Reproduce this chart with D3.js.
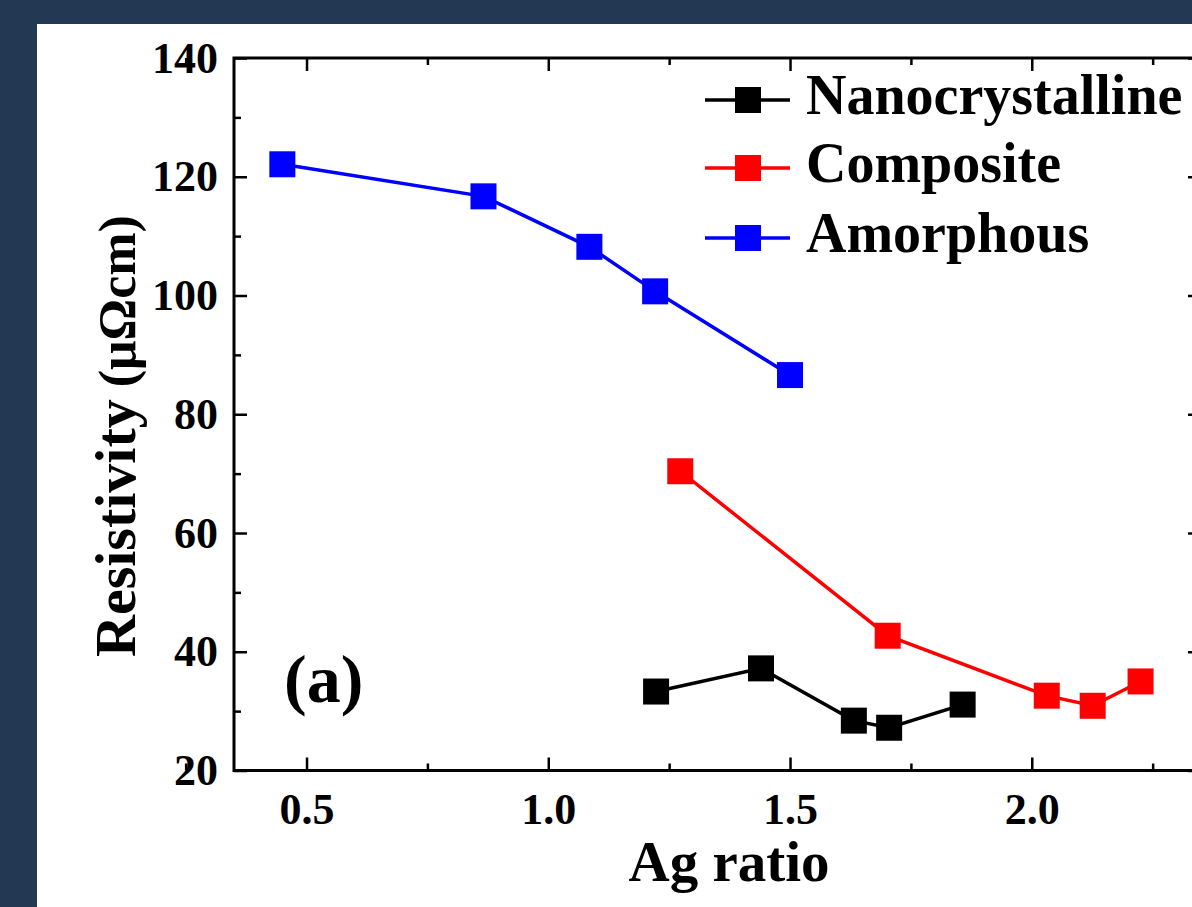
<!DOCTYPE html>
<html>
<head>
<meta charset="utf-8">
<script src="https://cdn.jsdelivr.net/npm/d3@7"></script>
<style>
  html, body { margin: 0; padding: 0; background: #233852; }
  svg { display: block; }
  text { font-family: "Liberation Serif", "Times New Roman", serif; font-weight: bold; fill: #000; }
</style>
</head>
<body>
<script>
// ---- data ----
const seriesNames = ["Nanocrystalline", "Composite", "Amorphous"];
const seriesColors = ["#000000", "#ff0000", "#0000ff"];
const nanoX = [1.223, 1.440, 1.632, 1.705, 1.857];
const nanoY = [33.3, 37.2, 28.4, 27.2, 31.1];
const compX = [1.273, 1.702, 2.031, 2.126, 2.225];
const compY = [70.4, 42.7, 32.6, 30.9, 35.0];
const amorX = [0.450, 0.866, 1.085, 1.221, 1.500];
const amorY = [122.1, 116.7, 108.2, 100.7, 86.6];
const xTicks = [0.5, 1.0, 1.5, 2.0];
const xMinorTicks = [0.25, 0.75, 1.25, 1.75, 2.25];
const yTicks = [20, 40, 60, 80, 100, 120, 140];
const yMinorTicks = [30, 50, 70, 90, 110, 130];
const xTitle = "Ag ratio";
const yTitle = "Resistivity";
const yUnit = "(μΩcm)";
const panelLabel = "(a)";

(function () {
const W = 1192, H = 907;
const svg = d3.select("body").append("svg").attr("width", W).attr("height", H);
svg.append("rect").attr("width", W).attr("height", H).attr("fill", "#233852");
svg.append("rect").attr("x", 37).attr("y", 24).attr("width", W - 37).attr("height", H - 24).attr("fill", "#ffffff");

const pl = 234, pr = 1201, pt = 58, pb = 770.5;
const x = d3.scaleLinear().domain([0.35, 2.35]).range([pl, pr]);
const y = d3.scaleLinear().domain([20, 140]).range([pb, pt]);

function styleAxis(g) {
  g.select(".domain").remove();
  g.selectAll(".tick line").attr("stroke", "#000").attr("stroke-width", 2.5);
  g.selectAll(".tick text").attr("font-size", 44).attr("fill", "#000")
    .style("font-family", '"Liberation Serif", "Times New Roman", serif').style("font-weight", "bold");
}
svg.append("g").attr("transform", `translate(0,${pb})`)
  .call(d3.axisBottom(x).tickValues(xTicks).tickSize(-13).tickPadding(22).tickFormat(d3.format(".1f")))
  .call(styleAxis);
svg.append("g").attr("transform", `translate(0,${pb})`)
  .call(d3.axisBottom(x).tickValues(xMinorTicks).tickSize(-7).tickFormat(""))
  .call(styleAxis);
svg.append("g").attr("transform", `translate(0,${pt})`)
  .call(d3.axisTop(x).tickValues(xTicks).tickSize(-13).tickFormat(""))
  .call(styleAxis);
svg.append("g").attr("transform", `translate(0,${pt})`)
  .call(d3.axisTop(x).tickValues(xMinorTicks).tickSize(-7).tickFormat(""))
  .call(styleAxis);
svg.append("g").attr("transform", `translate(${pl},0)`)
  .call(d3.axisLeft(y).tickValues(yTicks).tickSize(-13).tickPadding(16).tickFormat(d3.format("d")))
  .call(styleAxis);
svg.append("g").attr("transform", `translate(${pl},0)`)
  .call(d3.axisLeft(y).tickValues(yMinorTicks).tickSize(-7).tickFormat(""))
  .call(styleAxis);
svg.append("g").attr("transform", `translate(${pr},0)`)
  .call(d3.axisRight(y).tickValues(yTicks).tickSize(-13).tickFormat(""))
  .call(styleAxis);
svg.append("g").attr("transform", `translate(${pr},0)`)
  .call(d3.axisRight(y).tickValues(yMinorTicks).tickSize(-7).tickFormat(""))
  .call(styleAxis);
svg.append("rect").attr("x", pl).attr("y", pt).attr("width", pr - pl).attr("height", pb - pt)
  .attr("fill", "none").attr("stroke", "#000").attr("stroke-width", 3);

const series = [
  { xs: nanoX, ys: nanoY },
  { xs: compX, ys: compY },
  { xs: amorX, ys: amorY }
];
const line = d3.line().x(d => x(d[0])).y(d => y(d[1]));
const ms = 26;
series.forEach((s, i) => {
  const pts = s.xs.map((v, j) => [v, s.ys[j]]);
  svg.append("path").datum(pts).attr("d", line).attr("fill", "none")
    .attr("stroke", seriesColors[i]).attr("stroke-width", 3.5);
  svg.selectAll(null).data(pts).enter().append("rect")
    .attr("x", d => x(d[0]) - ms / 2).attr("y", d => y(d[1]) - ms / 2)
    .attr("width", ms).attr("height", ms).attr("fill", seriesColors[i]);
});

const legRows = [100, 168, 238];
seriesNames.forEach((name, i) => {
  const ly = legRows[i];
  svg.append("line").attr("x1", 705).attr("x2", 790).attr("y1", ly).attr("y2", ly)
    .attr("stroke", seriesColors[i]).attr("stroke-width", 3.5);
  svg.append("rect").attr("x", 748 - ms / 2).attr("y", ly - ms / 2).attr("width", ms).attr("height", ms)
    .attr("fill", seriesColors[i]);
  svg.append("text").attr("x", 806).attr("y", ly + 14).attr("font-size", 56).text(name);
});

svg.append("text").attr("x", 729).attr("y", 881).attr("text-anchor", "middle").attr("font-size", 57).text(xTitle);
const yt = svg.append("text").attr("transform", "translate(135,657) rotate(-90)").attr("text-anchor", "start");
yt.append("tspan").attr("font-size", 58).text(yTitle);
yt.append("tspan").attr("font-size", 52).attr("dx", 12).text(yUnit);

svg.append("text").attr("x", 284).attr("y", 702).attr("font-size", 68).text(panelLabel);
})();
</script>
</body>
</html>
